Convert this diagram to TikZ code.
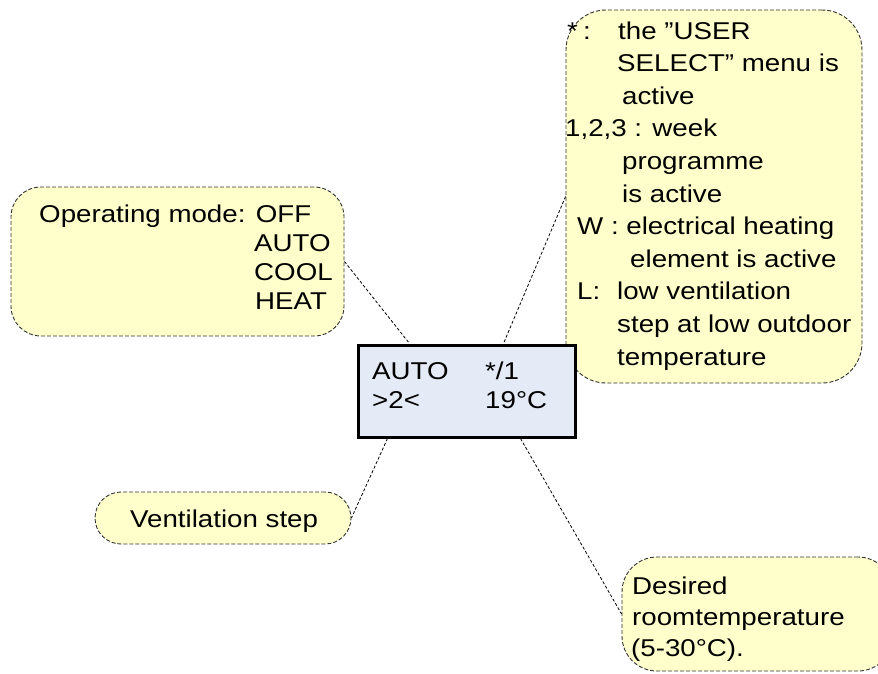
\documentclass[tikz,border=0pt]{standalone}
\usepackage{fontspec}
\setmainfont{Liberation Sans}[FakeStretch=1.14]
\usetikzlibrary{calc}
\definecolor{callfill}{RGB}{255,255,204}
\definecolor{lcdfill}{RGB}{228,234,246}
\definecolor{callborder}{RGB}{50,50,50}
\tikzset{
  callout/.style={draw=callborder, fill=callfill, line width=0.9pt, dash pattern=on 4pt off 2pt, inner sep=0pt},
  lcdbox/.style={draw=black, fill=lcdfill, line width=3pt, inner sep=0pt},
  txt/.style={inner sep=0pt, anchor=base west, font=\fontsize{24.3}{29}\selectfont},
  conn/.style={draw=black, line width=0.8pt, dash pattern=on 3pt off 2pt}
}
\begin{document}
\begin{tikzpicture}[x=1pt,y=-1pt]
\useasboundingbox (0,0) rectangle (878,673);
\clip (0,0) rectangle (878,673);

% boxes
\node[callout, rounded corners=30pt, minimum width=333pt, minimum height=149pt] (op) at (177.5,261.5) {};
\node[callout, rounded corners=40pt, minimum width=296pt, minimum height=373pt] (tr) at (714,196.5) {};
\node[callout, rounded corners=26pt, minimum width=256pt, minimum height=52pt] (vent) at (223,518) {};
\node[callout, rounded corners=35pt, minimum width=271pt, minimum height=114pt] (des) at (757.5,614) {};
\node[lcdbox, minimum width=217pt, minimum height=92pt] (lcd) at (466.5,391) {};

% connectors
\draw[conn] (op.east) -- ($(lcd.north west)+(53,0)$);
\draw[conn] (tr.west) -- ($(lcd.north west)+(147,0)$);
\draw[conn] ($(lcd.south west)+(31,0)$) -- (vent.east);
\draw[conn] ($(lcd.south west)+(164,0)$) -- (des.west);

% operating mode text
\node[txt] (op1) at (39,222) {Operating mode: OFF};
\node[txt] (op2) at (254,251) {AUTO};
\node[txt] (op3) at (254,280) {COOL};
\node[txt] (op4) at (255,309) {HEAT};

% LCD text
\node[txt] (l1) at (372,379) {AUTO};
\node[txt] (l2) at (485,379) {*/1};
\node[txt] (l3) at (372,408) {>2<};
\node[txt] (l4) at (485,408) {19°C};

% top-right text
\node[txt] (t0) at (567,39) {\makebox[16pt][l]{*}\makebox[35pt][l]{:}the ”USER};
\node[txt] (t1) at (617,71.6) {SELECT” menu is};
\node[txt] (t2) at (622,104.2) {active};
\node[txt] (t3) at (565,136.8) {1,2,3 : week};
\node[txt] (t4) at (622,169.4) {programme};
\node[txt] (t5) at (622,202) {is active};
\node[txt] (t6) at (577,234.6) {W : electrical heating};
\node[txt] (t7) at (630,267.2) {element is active};
\node[txt] (t8) at (577,299.8) {\makebox[40pt][l]{L:}low ventilation};
\node[txt] (t9) at (617,332.4) {step at low outdoor};
\node[txt] (t10) at (617,365) {temperature};

% ventilation
\node[txt] (v1) at (130,527) {Ventilation step};

% desired
\node[txt] (d1) at (632,594) {Desired};
\node[txt] (d2) at (632,625) {roomtemperature};
\node[txt] (d3) at (631,656) {(5-30°C).};
\end{tikzpicture}
\end{document}
